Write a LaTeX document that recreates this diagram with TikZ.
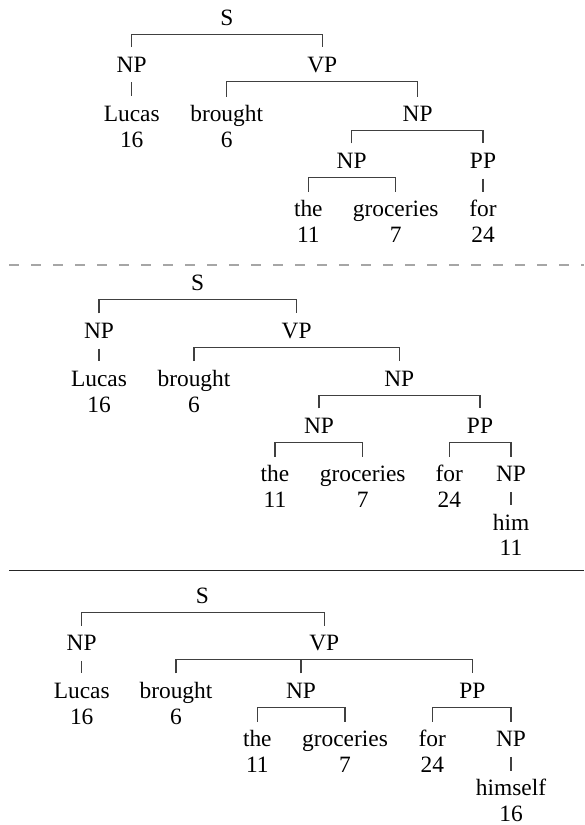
\documentclass[tikz,border=0pt]{standalone}
\usepackage{fontspec}
\setmainfont{Liberation Serif}
\begin{document}
\begin{tikzpicture}[x=1pt,y=-1pt,
  lbl/.style={anchor=base,inner sep=0pt,text height=16pt,text depth=5pt,
    font=\fontsize{23.4}{26}\selectfont},
  cat/.style={lbl},
  word/.style={lbl},
  idx/.style={lbl},
  branch/.style={draw=black!75,line width=1.1pt},
  dashsep/.style={draw=black!35,line width=1.8pt,dash pattern=on 10pt off 12pt},
  solidsep/.style={draw=black!85,line width=1.6pt}]
\useasboundingbox (0,0) rectangle (584,825);

% ---------- first parse ----------
\node[cat] (aS) at (227,25) {S};
\node[cat] (aNP) at (131.7,72) {NP};
\node[cat] (aVP) at (322.3,72) {VP};
\node[word] (aLucas) at (131.7,121.5) {Lucas};
\node[idx] (aLucasI) at (131.7,147) {16};
\node[word] (aBrought) at (226.7,121.5) {brought};
\node[idx] (aBroughtI) at (226.7,147) {6};
\node[cat] (aNPb) at (417.7,121.5) {NP};
\node[cat] (aNPc) at (351.7,168.3) {NP};
\node[cat] (aPP) at (483,168.3) {PP};
\node[word] (aThe) at (308.3,216.7) {the};
\node[idx] (aTheI) at (308.3,242.7) {11};
\node[word] (aGroc) at (395.7,216.7) {groceries};
\node[idx] (aGrocI) at (395.7,242.7) {7};
\node[word] (aFor) at (483,216.7) {for};
\node[idx] (aForI) at (483,242.7) {24};

\coordinate (aSbar) at ([yshift=-4pt]aS.south);
\coordinate (aVPbar) at ([yshift=-4pt]aVP.south);
\coordinate (aNPbbar) at ([yshift=-4pt]aNPb.south);
\coordinate (aNPcbar) at ([yshift=-4pt]aNPc.south);
\draw[branch] ([yshift=8.7pt]aNP.north) |- (aSbar) -| ([yshift=8.7pt]aVP.north);
\draw[branch] ([yshift=-5pt]aNP.south) -- ([yshift=9pt]aLucas.north);
\draw[branch] ([yshift=8.7pt]aBrought.north) |- (aVPbar) -| ([yshift=8.7pt]aNPb.north);
\draw[branch] ([yshift=8.7pt]aNPc.north) |- (aNPbbar) -| ([yshift=8.7pt]aPP.north);
\draw[branch] ([yshift=8.7pt]aThe.north) |- (aNPcbar) -| ([yshift=8.7pt]aGroc.north);
\draw[branch] ([yshift=-5pt]aPP.south) -- ([yshift=9pt]aFor.north);

% dashed separator
\coordinate (dashL) at (9,265.3);
\coordinate (dashR) at (584,265.3);
\draw[dashsep] (dashL) -- (dashR);

% ---------- second parse ----------
\node[cat] (bS) at (197.7,290.7) {S};
\node[cat] (bNP) at (99,338.3) {NP};
\node[cat] (bVP) at (296.7,338.3) {VP};
\node[word] (bLucas) at (99,386) {Lucas};
\node[idx] (bLucasI) at (99,412.2) {16};
\node[word] (bBrought) at (194,386) {brought};
\node[idx] (bBroughtI) at (194,412.2) {6};
\node[cat] (bNPb) at (399.3,386) {NP};
\node[cat] (bNPc) at (319,433.3) {NP};
\node[cat] (bPP) at (480,433.3) {PP};
\node[word] (bThe) at (275,481.7) {the};
\node[idx] (bTheI) at (275,507.5) {11};
\node[word] (bGroc) at (362.7,481.7) {groceries};
\node[idx] (bGrocI) at (362.7,507.5) {7};
\node[word] (bFor) at (449.3,481.7) {for};
\node[idx] (bForI) at (449.3,507.5) {24};
\node[cat] (bNPd) at (511,481.7) {NP};
\node[word] (bHim) at (511,530) {him};
\node[idx] (bHimI) at (511,555.5) {11};

\coordinate (bSbar) at ([yshift=-4pt]bS.south);
\coordinate (bVPbar) at ([yshift=-4pt]bVP.south);
\coordinate (bNPbbar) at ([yshift=-4pt]bNPb.south);
\coordinate (bNPcbar) at ([yshift=-4pt]bNPc.south);
\coordinate (bPPbar) at ([yshift=-4pt]bPP.south);
\draw[branch] ([yshift=8.7pt]bNP.north) |- (bSbar) -| ([yshift=8.7pt]bVP.north);
\draw[branch] ([yshift=-5pt]bNP.south) -- ([yshift=9pt]bLucas.north);
\draw[branch] ([yshift=8.7pt]bBrought.north) |- (bVPbar) -| ([yshift=8.7pt]bNPb.north);
\draw[branch] ([yshift=8.7pt]bNPc.north) |- (bNPbbar) -| ([yshift=8.7pt]bPP.north);
\draw[branch] ([yshift=8.7pt]bThe.north) |- (bNPcbar) -| ([yshift=8.7pt]bGroc.north);
\draw[branch] ([yshift=8.7pt]bFor.north) |- (bPPbar) -| ([yshift=8.7pt]bNPd.north);
\draw[branch] ([yshift=-5pt]bNPd.south) -- ([yshift=9pt]bHim.north);

% solid separator
\coordinate (solL) at (9,570.5);
\coordinate (solR) at (584,570.5);
\draw[solidsep] (solL) -- (solR);

% ---------- third parse ----------
\node[cat] (cS) at (202.3,603.3) {S};
\node[cat] (cNP) at (81.7,650.7) {NP};
\node[cat] (cVP) at (324.3,650.7) {VP};
\node[word] (cLucas) at (81.7,698.3) {Lucas};
\node[idx] (cLucasI) at (81.7,724.3) {16};
\node[word] (cBrought) at (176,698.3) {brought};
\node[idx] (cBroughtI) at (176,724.3) {6};
\node[cat] (cNPb) at (301,698.3) {NP};
\node[cat] (cPP) at (472.3,698.3) {PP};
\node[word] (cThe) at (257.3,746.7) {the};
\node[idx] (cTheI) at (257.3,772.3) {11};
\node[word] (cGroc) at (345,746.7) {groceries};
\node[idx] (cGrocI) at (345,772.3) {7};
\node[word] (cFor) at (432.3,746.7) {for};
\node[idx] (cForI) at (432.3,772.3) {24};
\node[cat] (cNPc) at (511,746.7) {NP};
\node[word] (cHimself) at (511,795.7) {himself};
\node[idx] (cHimselfI) at (511,821.5) {16};

\coordinate (cSbar) at ([yshift=-4pt]cS.south);
\coordinate (cVPbar) at ([yshift=-4pt]cVP.south);
\coordinate (cNPbbar) at ([yshift=-4pt]cNPb.south);
\coordinate (cPPbar) at ([yshift=-4pt]cPP.south);
\draw[branch] ([yshift=8.7pt]cNP.north) |- (cSbar) -| ([yshift=8.7pt]cVP.north);
\draw[branch] ([yshift=-5pt]cNP.south) -- ([yshift=9pt]cLucas.north);
\draw[branch] ([yshift=8.7pt]cBrought.north) |- (cVPbar) -| ([yshift=8.7pt]cPP.north);
\draw[branch] ([yshift=8.7pt]cNPb.north) -- (cNPb.north |- cVPbar);
\draw[branch] ([yshift=8.7pt]cThe.north) |- (cNPbbar) -| ([yshift=8.7pt]cGroc.north);
\draw[branch] ([yshift=8.7pt]cFor.north) |- (cPPbar) -| ([yshift=8.7pt]cNPc.north);
\draw[branch] ([yshift=-5pt]cNPc.south) -- ([yshift=9pt]cHimself.north);
\end{tikzpicture}
\end{document}
